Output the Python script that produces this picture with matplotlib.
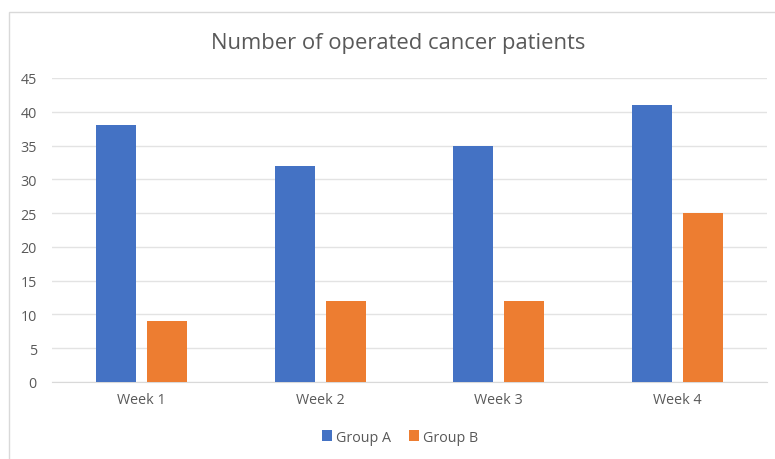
import numpy as np
import matplotlib.pyplot as plt
from matplotlib.patches import Rectangle

categories = ["Week 1", "Week 2", "Week 3", "Week 4"]
group_a = [38, 32, 35, 41]
group_b = [9, 12, 12, 25]
series_names = ["Group A", "Group B"]
yticks = [0, 5, 10, 15, 20, 25, 30, 35, 40, 45]

plt.rcParams['font.family'] = ['Open Sans', 'DejaVu Sans']

W, H = 775, 460
fig = plt.figure(figsize=(W / 100, H / 100), dpi=100)

# chart border (Excel style)
fig.patches.append(Rectangle((8.5 / W, -0.1), 1.2, 1 - 12.5 / H + 0.1,
                             transform=fig.transFigure, fill=False,
                             edgecolor='#d9d9d9', linewidth=1))

ax = fig.add_axes([52 / W, 1 - 383 / H, 715 / W, 304 / H])

x = np.arange(len(categories))
width = 0.224
offset = 0.143
ax.bar(x - offset, group_a, width, color='#4472C4', label=series_names[0], zorder=3)
ax.bar(x + offset, group_b, width, color='#ED7D31', label=series_names[1], zorder=3)

ax.set_xlim(-0.5, len(categories) - 0.5)
ax.set_ylim(0, 45)
ax.set_yticks(yticks)
ax.set_xticks(x)
ax.set_xticklabels(categories)
ax.yaxis.grid(True, color='#e3e3e3', linewidth=1, zorder=0)
ax.set_axisbelow(True)
for side in ['top', 'right', 'left']:
    ax.spines[side].set_visible(False)
ax.spines['bottom'].set_color('#d9d9d9')
ax.tick_params(axis='both', length=0, labelsize=10.3, colors='#595959')
ax.tick_params(axis='y', pad=11)
ax.tick_params(axis='x', pad=7)

fig.text(398 / W, 1 - 43 / H, "Number of operated cancer patients",
         ha='center', va='center', fontsize=15.8, color='#595959')

fig.legend(loc='center', bbox_to_anchor=(400 / W, 1 - 438 / H), ncol=2,
           frameon=False, fontsize=10.3, labelcolor='#595959',
           handlelength=0.7, handleheight=0.7, handletextpad=0.3,
           columnspacing=1.2)

fig.savefig("out.png", dpi=100)
